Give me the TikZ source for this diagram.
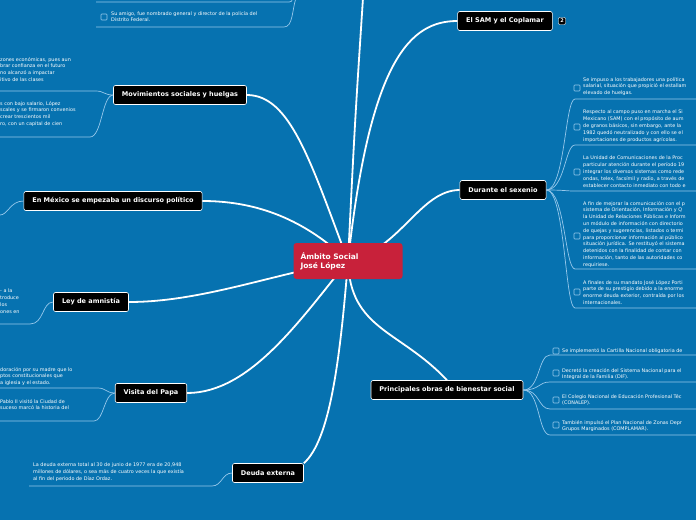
\documentclass[tikz,border=0pt]{standalone}
\usepackage{fontspec}
\setmainfont{DejaVu Sans}
\definecolor{fondo}{RGB}{6,114,176}
\definecolor{rojo}{RGB}{200,33,58}
\definecolor{linea}{RGB}{150,200,235}
\tikzset{
  tema/.style={draw=white, line width=0.6pt, fill=black, text=white, rounded corners=2pt, font=\fontsize{6.5}{7}\selectfont\bfseries, inner xsep=8.5pt, minimum height=19pt},
  hoja/.style={text=white, font=\fontsize{4.9}{6.8}\selectfont, align=left, inner sep=0pt, anchor=north west},
  caja/.style={draw=linea, line width=0.6pt, rounded corners=0.8pt, minimum size=6pt, inner sep=0pt},
  rama/.style={white, line width=1.8pt},
  guia/.style={linea, line width=0.7pt}
}
\begin{document}
\begin{tikzpicture}[x=1pt,y=-1pt]
  \fill[fondo] (0,0) rectangle (696,520);
  \useasboundingbox (0,0) rectangle (696,520);
  \begin{scope}
  \clip (0,0) rectangle (696,520);

  \coordinate (c) at (348,261);
  \node[tema] (sam) at (505,21) {El SAM y el Coplamar};
  \node[tema] (mov) at (180,95) {Movimientos sociales y huelgas};
  \node[tema] (mex) at (113,201) {En México se empezaba un discurso político};
  \node[tema] (sex) at (503,190) {Durante el sexenio};
  \node[tema] (ley) at (91,302) {Ley de amnistía};
  \node[tema] (papa) at (151,393) {Visita del Papa};
  \node[tema] (obras) at (447,390) {Principales obras de bienestar social};
  \node[tema] (deuda) at (268,473) {Deuda externa};
  \node[fill=black, draw=white, line width=0.4pt, rounded corners=1pt, text=white, font=\fontsize{5}{5}\selectfont\bfseries, inner sep=1.5pt, minimum size=7pt] (num) at (562,21) {2};
  \coordinate (arriba) at (363,-2);

  % ramas principales
  \draw[rama] (c) .. controls (355,120) .. (arriba);
  \draw[rama] (c) .. controls (370,60) and (410,21) .. (sam.west);
  \draw[rama] (c) .. controls (310,160) and (290,95) .. (mov.east);
  \draw[rama] (c) .. controls (300,215) and (250,201) .. (mex.east);
  \draw[rama] (c) .. controls (400,250) and (420,190) .. (sex.west);
  \draw[rama] (c) .. controls (270,275) and (200,302) .. (ley.east);
  \draw[rama] (c) .. controls (300,320) and (250,393) .. (papa.east);
  \draw[rama] (c) .. controls (350,330) and (400,330) .. (obras.north);
  \draw[rama] (c) .. controls (340,360) and (330,440) .. (deuda.north east);

  \node[fill=rojo, rounded corners=3pt, text=white, font=\fontsize{7.5}{9}\selectfont\bfseries, align=left, minimum width=109pt, minimum height=36pt, text width=95pt] (centro) at (348,261) {Ámbito Social\\José López};

  % hojas arriba
  \draw[guia] (96,2) -- (286,2) .. controls (292,2) .. (293,-4);
  \node[caja] (k0) at (104,17) {};
  \node[hoja] (h0) at (111,11) {Su amigo, fue nombrado general y director de la policía del\\Distrito Federal.};
  \draw[guia] (96,27) -- (284,27) .. controls (293,27) and (292,10) .. (296,-2);

  % Movimientos sociales y huelgas
  \node[hoja] (m1) at (0,57) {zones económicas, pues aun\\brar confianza en el futuro\\no alcanzó a impactar\\itivo de las clases};
  \node[hoja] (m2) at (0,101) {s con bajo salario, López\\scales y se firmaron convenios\\crear trescientos mil\\ro, con un capital de cien};
  \draw[guia] (mov.west) .. controls (104,95) and (104,91) .. (96,91) -- (0,91);
  \draw[guia] (mov.west) .. controls (102,95) and (102,137) .. (90,137) -- (0,137);

  % En México
  \draw[guia] (mex.west) .. controls (10,201) and (8,215) .. (0,215);

  % Durante el sexenio
  \foreach \y/\b in {88/99, 127/145, 172/191, 236/269, 292/308}
    \draw[guia] (sex.east) .. controls (565,190) and (565,\b) .. (575,\b) -- (696,\b);
  \foreach \n/\y in {1/88, 2/127, 3/172, 4/236, 5/292}
    \node[caja] (ks\n) at (577,\y) {};
  \node[hoja] (s1) at (583,77) {Se impuso a los trabajadores una política\\salarial, situación que propició el estallam\\elevado de huelgas.};
  \node[hoja] (s2) at (583,110) {Respecto al campo puso en marcha el Si\\Mexicano (SAM) con el propósito de aum\\de granos básicos, sin embargo, ante la\\1982 quedó neutralizado y con ello se el\\importaciones de productos agrícolas.};
  \node[hoja] (s3) at (583,156) {La Unidad de Comunicaciones de la Proc\\particular atención durante el período 19\\integrar los diversos sistemas como rede\\ondas, telex, facsímil y radio, a través de\\establecer contacto inmediato con todo e};
  \node[hoja] (s4) at (583,201) {A fin de mejorar la comunicación con el p\\sistema de Orientación, Información y Q\\la Unidad de Relaciones Públicas e Inform\\un módulo de información con directorio\\de quejas y sugerencias, listados o termi\\para proporcionar información al público\\situación jurídica. Se restituyó el sistema\\detenidos con la finalidad de contar con\\información, tanto de las autoridades co\\requiriese.};
  \node[hoja] (s5) at (583,280) {A finales de su mandato José López Porti\\parte de su prestigio debido a la enorme\\enorme deuda exterior, contraída por los\\internacionales.};

  % Ley de amnistía
  \node[hoja] (l1) at (0,289) {- a la\\troduce\\los\\ones en};
  \draw[guia] (ley.west) .. controls (42,302) and (44,324) .. (30,324) -- (0,324);

  % Visita del Papa
  \node[hoja] (p1) at (0,367) {doración por su madre que lo\\ptos constitucionales que\\a iglesia y el estado.};
  \node[hoja] (p2) at (0,399) {Pablo II visitó la Ciudad de\\suceso marcó la historia del};
  \draw[guia] (papa.west) .. controls (106,393) and (106,388) .. (98,388) -- (0,388);
  \draw[guia] (papa.west) .. controls (104,393) and (104,421) .. (94,421) -- (0,421);

  % Principales obras
  \foreach \b in {355, 382, 409, 435}
    \draw[guia] (obras.east) .. controls (540,390) and (538,\b) .. (550,\b) -- (696,\b);
  \foreach \n/\y in {1/351, 2/373, 3/400, 4/425}
    \node[caja] (ko\n) at (556,\y) {};
  \node[hoja] (o1) at (562,348) {Se implementó la Cartilla Nacional obligatoria de};
  \node[hoja] (o2) at (562,368) {Decretó la creación del Sistema Nacional para el\\Integral de la Familia (DIF).};
  \node[hoja] (o3) at (562,394) {El Colegio Nacional de Educación Profesional Téc\\(CONALEP).};
  \node[hoja] (o4) at (562,420) {También impulsó el Plan Nacional de Zonas Depr\\Grupos Marginados (COMPLAMAR).};

  % Deuda externa
  \node[hoja] (d1) at (33,463) {La deuda externa total al 30 de junio de 1977 era de 20,948\\millones de dólares, o sea más de cuatro veces la que existía\\al fin del periodo de Díaz Ordaz.};
  \draw[guia] (deuda.west) .. controls (222,473) and (222,486) .. (212,486) -- (29,486);
  \end{scope}
\end{tikzpicture}
\end{document}
